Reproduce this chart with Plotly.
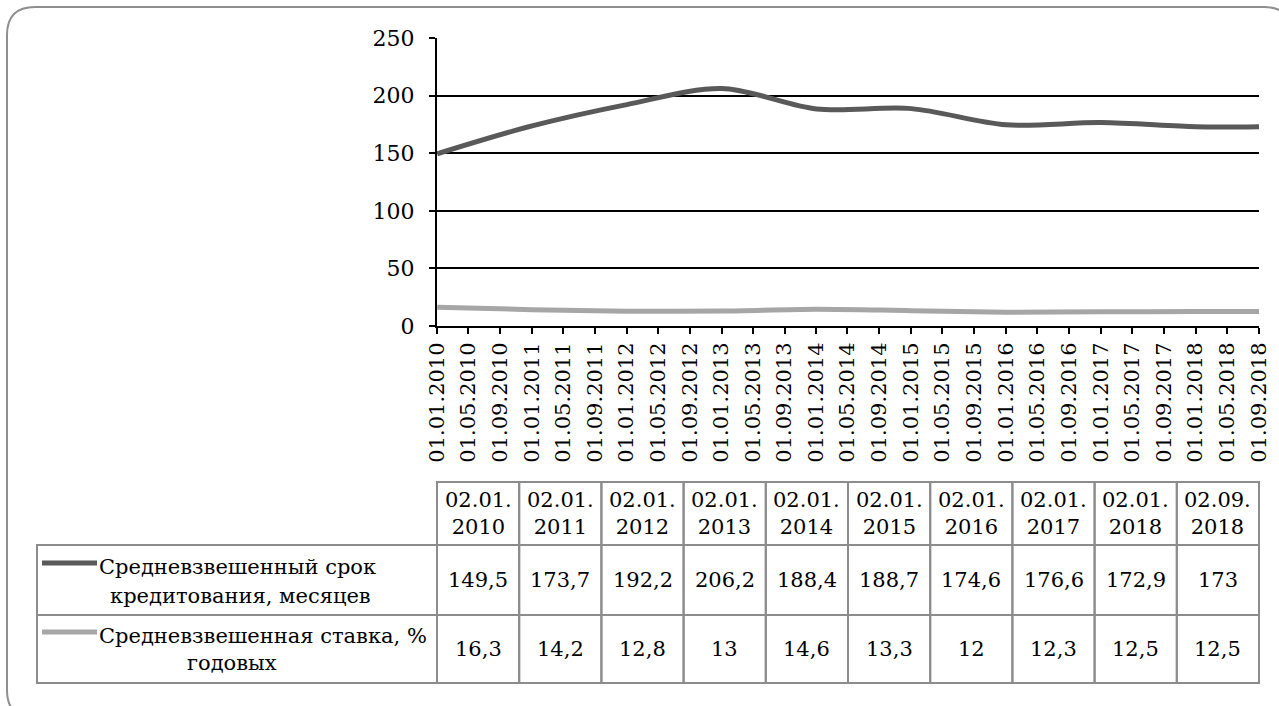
import plotly.graph_objects as go
import pandas as pd

# ---- data ----
dates = ["2010-01-02", "2011-01-02", "2012-01-02", "2013-01-02", "2014-01-02",
         "2015-01-02", "2016-01-02", "2017-01-02", "2018-01-02", "2018-09-02"]
term_months = [149.5, 173.7, 192.2, 206.2, 188.4, 188.7, 174.6, 176.6, 172.9, 173]
rate_pct = [16.3, 14.2, 12.8, 13, 14.6, 13.3, 12, 12.3, 12.5, 12.5]
series_names = [["Средневзвешенный срок", "кредитования, месяцев"],
                ["Средневзвешенная ставка, %", "годовых"]]
tick_dates = pd.date_range("2010-01-01", "2018-09-01", freq="4MS")
y_ticks = [0, 50, 100, 150, 200, 250]

# ---- styling ----
FONT = "DejaVu Serif"
FS_AXIS = 21
FS_TABLE = 21
DARK = "#595959"
LIGHT = "#a6a6a6"
GRID = "#8c8c8c"
W, H = 1279, 706
L, R, T, B = 437, 20, 38, 380
PW, PH = W - L - R, H - T - B


def px(x):
    return (x - L) / PW


def py(y):
    return (H - B - y) / PH


fig = go.Figure()
fig.add_trace(go.Scatter(x=dates, y=term_months, mode="lines",
                         line=dict(color=DARK, width=5, shape="spline", smoothing=0.9),
                         showlegend=False, hoverinfo="skip"))
fig.add_trace(go.Scatter(x=dates, y=rate_pct, mode="lines",
                         line=dict(color=LIGHT, width=5, shape="spline", smoothing=0.9),
                         showlegend=False, hoverinfo="skip"))

shapes = []
annotations = []

# outer rounded frame
rr = 28
path = (f"M {px(7)} {py(7 + rr)} "
        f"Q {px(7)} {py(7)} {px(7 + rr)} {py(7)} "
        f"L {px(1292 - rr)} {py(7)} "
        f"Q {px(1292)} {py(7)} {px(1292)} {py(7 + rr)} "
        f"L {px(1292)} {py(718 - rr)} "
        f"Q {px(1292)} {py(718)} {px(1292 - rr)} {py(718)} "
        f"L {px(7 + rr)} {py(718)} "
        f"Q {px(7)} {py(718)} {px(7)} {py(718 - rr)} Z")
shapes.append(dict(type="path", xref="paper", yref="paper", path=path,
                   line=dict(color="#8f8f8f", width=2), layer="below"))

# data table below the axis
n = len(dates)
col_edges = [i / n for i in range(n + 1)]
hdr_top, hdr_bot = 482, 545
row_edges = [545, 615, 683]
row_label_left = 37


def box(xa, xb, ya, yb):
    shapes.append(dict(type="rect", xref="paper", yref="paper",
                       x0=xa, x1=xb, y0=py(ya), y1=py(yb),
                       line=dict(color=GRID, width=2)))


def font(size):
    return dict(family=FONT, size=size, color="black")


for i in range(n):
    box(col_edges[i], col_edges[i + 1], hdr_top, hdr_bot)
    d = pd.Timestamp(dates[i])
    annotations.append(dict(xref="paper", yref="paper",
                            x=(col_edges[i] + col_edges[i + 1]) / 2,
                            y=py((hdr_top + hdr_bot) / 2),
                            text=d.strftime("%d.%m.") + "<br>" + d.strftime("%Y"),
                            showarrow=False, xanchor="center", yanchor="middle",
                            font=font(FS_TABLE)))

rows = [(term_months, DARK), (rate_pct, LIGHT)]
label_pos = [((567, 596), 240), ((636, 663), 232)]
for r, (vals, color) in enumerate(rows):
    ya, yb = row_edges[r], row_edges[r + 1]
    box(px(row_label_left), 0, ya, yb)
    (l1y, l2y), l2x = label_pos[r]
    shapes.append(dict(type="line", xref="paper", yref="paper",
                       x0=px(42), x1=px(97), y0=py(l1y - 4), y1=py(l1y - 4),
                       line=dict(color=color, width=5)))
    annotations.append(dict(xref="paper", yref="paper", x=px(97), y=py(l1y),
                            text=series_names[r][0], showarrow=False,
                            xanchor="left", yanchor="middle", font=font(FS_TABLE)))
    annotations.append(dict(xref="paper", yref="paper", x=px(l2x), y=py(l2y),
                            text=series_names[r][1], showarrow=False,
                            xanchor="center", yanchor="middle", font=font(FS_TABLE)))
    for i, v in enumerate(vals):
        box(col_edges[i], col_edges[i + 1], ya, yb)
        annotations.append(dict(xref="paper", yref="paper",
                                x=(col_edges[i] + col_edges[i + 1]) / 2,
                                y=py((ya + yb) / 2),
                                text=f"{v:g}".replace(".", ","), showarrow=False,
                                xanchor="center", yanchor="middle", font=font(FS_TABLE)))

fig.update_layout(
    width=W, height=H,
    margin=dict(l=L, r=R, t=T, b=B, pad=0),
    paper_bgcolor="white", plot_bgcolor="white",
    font=font(FS_AXIS),
    shapes=shapes, annotations=annotations,
    xaxis=dict(type="date", range=["2010-01-01", "2018-09-02"],
               tickvals=list(tick_dates),
               ticktext=[d.strftime("%d.%m.%Y") for d in tick_dates],
               tickangle=-90, ticks="outside", ticklen=6, tickcolor="black",
               tickwidth=2, showline=True, linecolor="black", linewidth=2,
               showgrid=False, zeroline=False, automargin=False,
               tickfont=font(FS_AXIS)),
    yaxis=dict(range=[0, 250], tickvals=y_ticks, ticks="outside", ticklen=6,
               tickcolor="black", tickwidth=2, showline=True, linecolor="black",
               linewidth=2, showgrid=True, gridcolor="black", gridwidth=1.5,
               zeroline=False, automargin=False, ticklabelstandoff=10,
               tickfont=font(FS_AXIS + 1)),
)

fig.write_html("out.html")
